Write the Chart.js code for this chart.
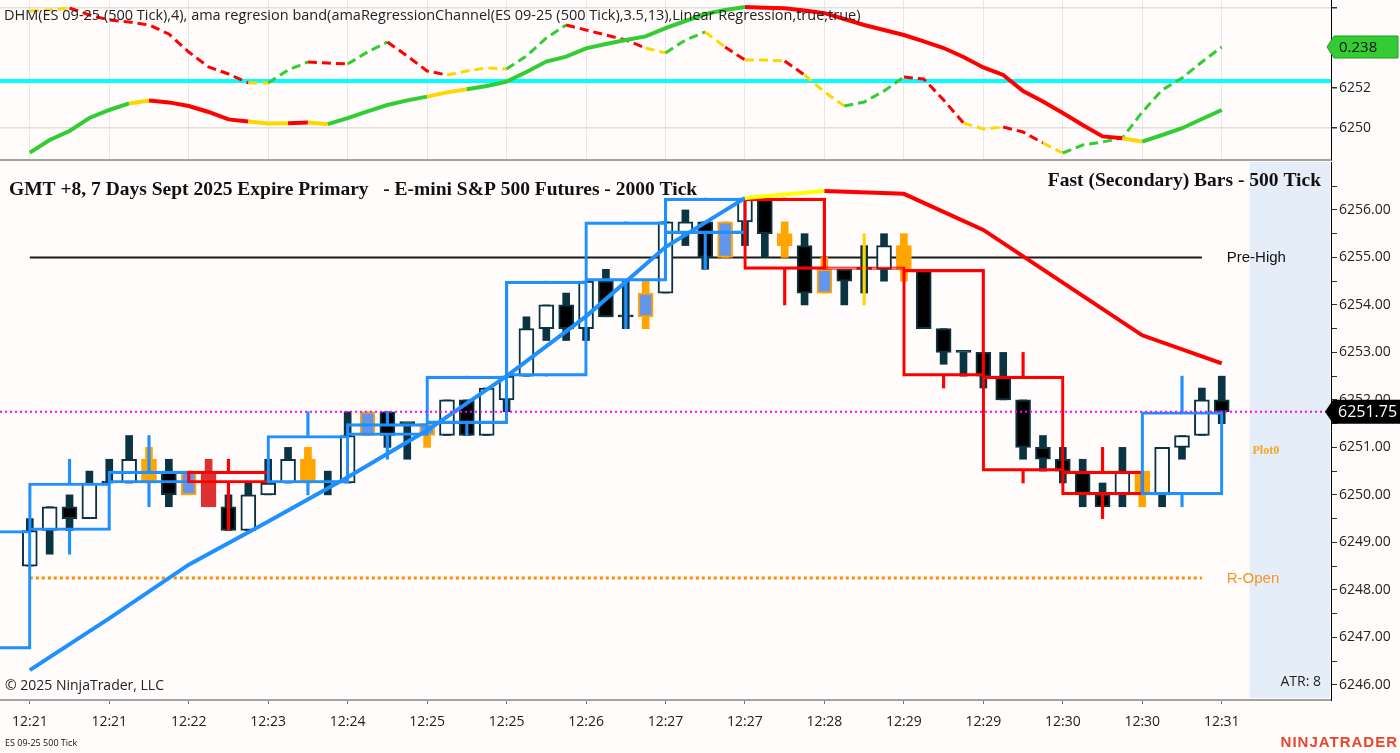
<!DOCTYPE html>
<html><head><meta charset="utf-8">
<script src="https://cdn.jsdelivr.net/npm/chart.js@4.4.1/dist/chart.umd.min.js"></script>
<style>
html,body{margin:0;padding:0;background:#fffcfb;width:1400px;height:753px;overflow:hidden;}
canvas{position:absolute;left:0;display:block;}
#c1{top:0;}
#c2{top:162px;}
</style></head><body>
<canvas id="c1" width="1400" height="162"></canvas>
<canvas id="c2" width="1400" height="591"></canvas>
<script>
// ---------------- DATA ----------------
const tickLabels = ["12:21","12:21","12:22","12:23","12:24","12:25","12:25","12:26","12:27","12:27","12:28","12:29","12:29","12:30","12:30","12:31"];
const barsPerLabel = 4;

// 500-tick candles
const barOpen  = [6248.5,6249.25,6249.75,6249.5,6250.25,6250.25,6250.75,6250.5,6250.5,6250.5,6249.75,6249.25,6250.0,6250.25,6250.75,6250.25,6250.25,6251.75,6251.75,6251.5,6251.5,6251.25,6252.0,6251.25,6252.0,6252.5,6253.5,6254.0,6253.5,6254.5,6253.75,6254.25,6254.25,6255.5,6255.75,6255.75,6255.75,6256.25,6255.5,6255.25,6254.75,6254.75,6254.75,6254.75,6255.25,6254.75,6253.5,6253.0,6253.0,6252.5,6252.0,6251.0,6250.75,6250.5,6250.0,6250.0,6250.5,6250.0,6251.0,6251.25,6252.0];
const barHigh  = [6249.5,6249.75,6250.0,6250.5,6250.75,6251.25,6251.0,6250.75,6250.5,6250.75,6250.0,6250.25,6250.75,6251.0,6251.0,6250.5,6251.75,6251.75,6251.75,6251.5,6251.5,6252.0,6252.0,6252.25,6252.5,6253.75,6254.0,6254.25,6254.5,6254.75,6254.5,6254.5,6255.75,6256.0,6255.75,6255.75,6256.25,6256.25,6255.75,6255.5,6255.0,6254.75,6255.25,6255.5,6255.5,6254.75,6253.5,6253.0,6253.0,6253.0,6252.0,6251.25,6251.0,6250.75,6250.25,6251.0,6250.5,6251.0,6251.25,6252.25,6252.5];
const barLow   = [6248.5,6248.75,6249.25,6249.5,6250.25,6250.25,6250.25,6249.75,6250.0,6249.75,6249.25,6249.25,6250.0,6250.25,6250.25,6250.0,6250.25,6251.25,6251.0,6250.75,6251.0,6251.25,6251.25,6251.25,6251.75,6252.5,6253.25,6253.25,6253.25,6253.75,6253.5,6253.5,6254.25,6255.25,6254.75,6255.0,6255.25,6255.0,6255.0,6254.0,6254.25,6254.0,6254.25,6254.5,6254.5,6253.5,6252.75,6252.5,6252.25,6252.0,6250.75,6250.5,6250.25,6249.75,6249.75,6249.75,6249.75,6249.75,6250.75,6251.25,6251.5];
const barClose = [6249.25,6249.75,6249.5,6250.25,6250.25,6250.75,6250.25,6250.0,6250.0,6249.75,6249.25,6250.0,6250.25,6250.75,6250.25,6250.25,6251.25,6251.25,6251.25,6251.5,6251.25,6252.0,6251.25,6252.25,6252.5,6253.5,6254.0,6253.5,6254.5,6253.75,6253.75,6253.75,6255.75,6255.75,6255.0,6255.0,6256.25,6255.5,6255.25,6254.25,6254.25,6254.5,6254.75,6255.25,6254.75,6253.5,6253.0,6253.0,6252.5,6252.0,6251.0,6250.75,6250.5,6250.0,6249.75,6250.5,6250.0,6251.0,6251.25,6252.0,6251.75];
// paint codes: up, dn, dj (doji), or (orange), bl (blue fill), rd (red)
const barPaint = ["up","up","dn","up","dj","up","or","dn","bl","rd","dn","up","up","up","or","dj","up","bl","dn","dj","bl","up","dn","up","up","up","up","dn","up","dn","dj","bl","up","up","dn","bl","up","dn","or","dn","bl","dn","dj","up","or","dn","dn","dj","dn","dn","dn","dn","dn","dn","dn","up","or","up","up","up","dn"];

// 2000-tick boxes (each spans 4 candles), first one starts before the visible bars
const boxFirstSlot = -1;
const boxTop    = [6249.25,6250.25,6250.5,6250.5,6251.25,6251.5,6252.5,6254.5,6255.75,6256.25,6256.25,6254.75,6254.75,6252.5,6250.5,6251.75];
const boxBottom = [6246.75,6249.25,6250.25,6250.25,6250.25,6251.25,6251.5,6252.5,6254.5,6255.5,6254.75,6254.75,6252.5,6250.5,6250.0,6250.0];
const boxHigh   = [6249.25,6250.75,6251.25,6250.75,6251.75,6251.75,6252.5,6254.5,6255.75,6256.25,6256.25,6255.5,6254.75,6253.0,6251.0,6252.5];
const boxLow    = [6246.75,6248.75,6249.75,6249.25,6250.0,6250.75,6251.25,6252.5,6253.5,6254.75,6254.0,6254.0,6252.25,6250.25,6249.5,6249.75];
const boxPaint  = ["b","b","b","r","b","b","b","b","b","b","r","ry","r","r","r","b"];

// Linear regression line (per 2000-tick bar)
const regrX = [0,4,8,12,16,20,24,28,32,36,40,44,48,52,56,60];
const regrY = [6246.31,6247.4,6248.53,6249.44,6250.37,6251.36,6252.5,6253.76,6255.22,6256.25,6256.4,6256.34,6255.58,6254.47,6253.36,6252.77];
const regrPaint = ["b","b","b","b","b","b","b","b","b","y","r","r","r","r","r"];

// levels
const preHigh = 6255.0;
const rOpen = 6248.25;
const lastPrice = 6251.75;
const plot0Value = 6250.92;
const atrValue = 8;

// Upper panel: DHM / ama regression band
const dhmDash = [6255.85,6255.9,6256.0,6255.65,6255.4,6255.3,6255.15,6254.7,6253.8,6253.05,6252.7,6252.25,6252.25,6252.9,6253.3,6253.25,6253.2,6253.8,6254.3,6253.6,6252.85,6252.65,6252.85,6253.0,6252.95,6253.6,6254.5,6255.15,6254.9,6254.65,6254.4,6254.0,6253.75,6254.4,6254.8,6254.05,6253.4,6253.4,6253.35,6252.65,6251.8,6251.1,6251.3,6251.85,6252.55,6252.45,6251.4,6250.25,6249.95,6250.05,6249.8,6249.25,6248.75,6249.15,6249.3,6249.5,6250.8,6251.9,6252.5,6253.3,6254.05];
const dhmDashPaint = ["y","y","r","r","r","r","r","r","r","r","r","y","g","g","r","r","g","g","r","r","r","y","y","y","g","g","g","r","r","r","r","y","g","g","y","r","y","y","r","y","y","g","g","g","r","r","r","y","y","r","r","y","g","g","g","g","g","g","g","g"];
const dhmSolid = [6248.77,6249.4,6249.85,6250.5,6250.9,6251.23,6251.37,6251.28,6251.1,6250.8,6250.43,6250.32,6250.23,6250.24,6250.27,6250.19,6250.49,6250.83,6251.15,6251.38,6251.57,6251.78,6251.94,6252.1,6252.32,6252.8,6253.32,6253.57,6253.98,6254.2,6254.4,6254.58,6254.99,6255.35,6255.7,6255.9,6256.05,6256.01,6255.99,6255.88,6255.74,6255.45,6255.15,6254.9,6254.65,6254.33,6254.0,6253.55,6253.03,6252.65,6251.85,6251.33,6250.75,6250.15,6249.58,6249.49,6249.32,6249.65,6249.99,6250.45,6250.9];
const dhmSolidPaint = ["g","g","g","g","g","y","r","r","r","r","r","y","y","r","y","g","g","g","g","g","y","y","g","g","g","g","g","g","g","g","g","g","g","g","g","g","r","r","r","r","r","r","r","r","r","r","r","r","r","r","r","r","r","r","r","y","g","g","g","g"];
const cyanLevel = 6252.35;
const dhmValueText = "0.238";
const upperTitle = "DHM(ES 09-25 (500 Tick),4), ama regresion band(amaRegressionChannel(ES 09-25 (500 Tick),3.5,13),Linear Regression,true,true)";
const mainTitle = "GMT +8, 7 Days Sept 2025 Expire Primary   - E-mini S&P 500 Futures - 2000 Tick";
const secTitle = "Fast (Secondary) Bars - 500 Tick";

// ---------------- STYLE ----------------
const X_MIN = -1.5, X_MAX = 65.5;
const AXIS_W = 69;
const UNIT_PX = (1400 - AXIS_W) / (X_MAX - X_MIN);
const TEAL = '#0a3442';
const BODY = {
  up:{bg:'#ffffff', bd:TEAL, wk:TEAL},
  dn:{bg:'#000000', bd:TEAL, wk:TEAL},
  dj:{bg:TEAL, bd:TEAL, wk:TEAL},
  or:{bg:'#ffa500', bd:'#ffa500', wk:'#ffa500'},
  bl:{bg:'#6495ed', bd:'#ffa500', wk:'#ffa500'},
  rd:{bg:'#dc3232', bd:'#dc3232', wk:'#dc3232'}
};
const BOXC = {b:{bd:'#1e90ff', wk:'#1e90ff'}, r:{bd:'#ff0000', wk:'#ff0000'}, ry:{bd:'#ff0000', wk:'#ffd700'}};
const LINEC = {b:'#1e90ff', y:'#ffff00', r:'#ff0000'};
const TOPC = {r:'#ff0000', y:'#ffd700', g:'#32cd32'};
const UI = '"Open Sans", "Noto Sans", sans-serif';

const xTicks = tickLabels.map((_, j) => ({value: j * barsPerLabel}));
const lastBar = barOpen.length - 1;
const noPad = s => { s.paddingTop = 0; s.paddingBottom = 0; s.paddingLeft = 0; s.paddingRight = 0; };

// ---------------- UPPER PANEL ----------------
const topTextPlugin = {
  id:'topText',
  afterDraw(chart){
    const ctx = chart.ctx, y = chart.scales.y;
    ctx.save();
    ctx.font = '14.5px ' + UI; ctx.fillStyle = '#222'; ctx.textBaseline = 'middle'; ctx.textAlign='left';
    ctx.fillText(upperTitle, 4, 16);
    const py = y.getPixelForValue(dhmDash[dhmDash.length-1]);
    const l = chart.chartArea.right - 4;
    ctx.beginPath();
    ctx.moveTo(l, py); ctx.lineTo(l+7, py-11); ctx.lineTo(1398, py-11); ctx.lineTo(1398, py+11); ctx.lineTo(l+7, py+11); ctx.closePath();
    ctx.fillStyle = '#33cc33'; ctx.fill(); ctx.strokeStyle='#249a24'; ctx.lineWidth=1; ctx.stroke();
    ctx.fillStyle = '#111'; ctx.font = '15px ' + UI;
    ctx.fillText(dhmValueText, l+12, py+1);
    ctx.restore();
  }
};

new Chart(document.getElementById('c1'), {
  type:'line',
  data:{datasets:[
    {data: dhmSolid.map((v,i)=>({x:i,y:v})), borderWidth:4, borderColor:TOPC.g,
     segment:{borderColor: c => TOPC[dhmSolidPaint[c.p0DataIndex]]}, pointRadius:0, tension:0, order:1},
    {data: dhmDash.map((v,i)=>({x:i,y:v})), borderWidth:3, borderDash:[9,5], borderColor:TOPC.r,
     segment:{borderColor: c => TOPC[dhmDashPaint[c.p0DataIndex]]}, pointRadius:0, tension:0, order:2},
    {data:[{x:X_MIN,y:cyanLevel},{x:X_MAX,y:cyanLevel}], borderColor:'#00ffff', borderWidth:4, pointRadius:0, order:5}
  ]},
  options:{
    responsive:false, animation:false, devicePixelRatio:1,
    layout:{padding:0},
    plugins:{legend:{display:false}, tooltip:{enabled:false}},
    scales:{
      x:{type:'linear', min:X_MIN, max:X_MAX, offset:false,
         afterBuildTicks: s => { s.ticks = xTicks.map(t=>({value:t.value})); },
         ticks:{display:false}, grid:{color:'#e9e6e6', drawTicks:false, lineWidth:1},
         border:{display:true, color:'#a3a3a3', width:2},
         afterFit: s => { s.height = 2; noPad(s); }},
      y:{position:'right', min:6248.4, max:6256.4,
         afterBuildTicks: s => { s.ticks = [6250,6252,6254,6256].map(v=>({value:v})); },
         ticks:{autoSkip:false, padding:2, color:'#222', font:{family:UI, size:14},
                callback: v => (v===6250||v===6252) ? String(v) : ''},
         grid:{color: c => (c.tick && (c.tick.value===6250||c.tick.value===6256)) ? '#e2dfdf' : 'rgba(0,0,0,0)',
               tickColor:'#333', tickLength:6, lineWidth:1.5},
         border:{display:true, color:'#000', width:1},
         afterFit: s => { s.width = AXIS_W; noPad(s); }}
    }
  },
  plugins:[topTextPlugin]
});

// ---------------- LOWER PANEL ----------------
const shadePlugin = {
  id:'shade',
  beforeDatasetsDraw(chart){
    const {ctx, chartArea:a, scales:{x}} = chart;
    const x0 = x.getPixelForValue(lastBar + 1.4);
    ctx.save(); ctx.fillStyle = '#e5edf9';
    ctx.fillRect(x0, a.top, a.right - x0 - 1, a.bottom - a.top - 2);
    ctx.restore();
  }
};
const textPlugin = {
  id:'txt',
  afterDraw(chart){
    const {ctx, chartArea:a, scales:{x, y}} = chart;
    ctx.save();
    ctx.textBaseline = 'middle';
    ctx.fillStyle = '#111'; ctx.textAlign='left';
    ctx.font = 'bold 19.5px "Liberation Serif", "DejaVu Serif", serif';
    ctx.fillText(mainTitle, 9, a.top + 28);
    ctx.textAlign='right';
    ctx.fillText(secTitle, a.right - 10, a.top + 19);
    const lx = x.getPixelForValue(lastBar) + 5;
    ctx.textAlign='left'; ctx.font = '15px "Liberation Sans", Arial, sans-serif';
    ctx.fillStyle = '#111'; ctx.fillText('Pre-High', lx, y.getPixelForValue(preHigh));
    ctx.fillStyle = '#f7941d'; ctx.fillText('R-Open', lx, y.getPixelForValue(rOpen) + 1);
    ctx.font = 'bold 12px "Liberation Serif", serif'; ctx.fillStyle = '#f5a623';
    ctx.fillText('Plot0', x.getPixelForValue(lastBar + 1.55), y.getPixelForValue(plot0Value));
    ctx.font = '14px ' + UI; ctx.fillStyle = '#222'; ctx.textAlign='right';
    ctx.fillText('ATR: ' + atrValue, a.right - 10, a.bottom - 18);
    ctx.textAlign='left';
    ctx.fillText('\u00A9 2025 NinjaTrader, LLC', 5, a.bottom - 14);
    ctx.font = '9px ' + UI; ctx.fillStyle='#111';
    ctx.fillText('ES 09-25 500 Tick', 5, chart.height - 10);
    ctx.font = 'bold 15px "Liberation Sans", Arial, sans-serif'; ctx.fillStyle = '#e8452c';
    ctx.letterSpacing = '1px';
    ctx.textAlign='right';
    ctx.fillText('NINJATRADER', 1398, chart.height - 10);
    ctx.letterSpacing = '0px';
    const py = y.getPixelForValue(lastPrice);
    const l = a.right - 6;
    ctx.beginPath();
    ctx.moveTo(l, py); ctx.lineTo(l+8, py-12); ctx.lineTo(1400, py-12); ctx.lineTo(1400, py+12); ctx.lineTo(l+8, py+12); ctx.closePath();
    ctx.fillStyle='#000'; ctx.fill();
    ctx.fillStyle='#fff'; ctx.font='16px ' + UI; ctx.textAlign='left';
    ctx.fillText(lastPrice.toFixed(2), l+13, py+1);
    ctx.restore();
  }
};

const boxCenters = boxTop.map((_, j) => (boxFirstSlot + j) * barsPerLabel + barsPerLabel/2);
const BOX_W = barsPerLabel * UNIT_PX + 2.5;

new Chart(document.getElementById('c2'), {
  type:'line',
  data:{datasets:[
    {type:'line', data:[{x:0,y:preHigh},{x:lastBar-1,y:preHigh}], borderColor:'#1a1a1a', borderWidth:2, pointRadius:0, order:20},
    {type:'line', data:[{x:0,y:rOpen},{x:lastBar-1,y:rOpen}], borderColor:'#ff8c00', borderWidth:3, borderDash:[3,3], pointRadius:0, order:20},
    {type:'bar', data: barLow.map((l,i)=>({x:i, y:[l, barHigh[i]]})), grouped:false, barThickness:7,
     backgroundColor: barPaint.map(p=>BODY[p].wk), borderWidth:0, order:12},
    {type:'bar', data: barOpen.map((o,i)=>({x:i, y:[o, barClose[i]]})), grouped:false, barThickness:15, minBarLength:2,
     backgroundColor: barPaint.map(p=>BODY[p].bg), borderColor: barPaint.map(p=>BODY[p].bd), borderWidth:2, borderSkipped:false, order:11},
    {type:'bar', data: boxTop.map((t,j)=>({x:boxCenters[j], y:[t, boxBottom[j]]})), grouped:false, barThickness:BOX_W, minBarLength:2.5,
     backgroundColor:'rgba(0,0,0,0)', borderColor: boxPaint.map(p=>BOXC[p].bd), borderWidth:2.5, borderSkipped:false, order:6},
    {type:'bar', data: boxTop.map((t,j)=>({x:boxCenters[j], y:[t, boxHigh[j]]})), grouped:false, barThickness:2.5,
     backgroundColor: boxPaint.map(p=>BOXC[p].wk), borderWidth:0, order:5},
    {type:'bar', data: boxBottom.map((b,j)=>({x:boxCenters[j], y:[boxLow[j], b]})), grouped:false, barThickness:2.5,
     backgroundColor: boxPaint.map(p=>BOXC[p].wk), borderWidth:0, order:5},
    {type:'line', data: regrX.map((xv,i)=>({x:xv, y:regrY[i]})), borderWidth:4, borderColor:LINEC.b,
     segment:{borderColor: c => LINEC[regrPaint[c.p0DataIndex]]}, pointRadius:0, tension:0, order:2},
    {type:'line', data:[{x:X_MIN,y:lastPrice},{x:X_MAX,y:lastPrice}], borderColor:'#ff00ff', borderWidth:2, borderDash:[2,3], pointRadius:0, order:1}
  ]},
  options:{
    responsive:false, animation:false, devicePixelRatio:1,
    layout:{padding:0},
    plugins:{legend:{display:false}, tooltip:{enabled:false}},
    scales:{
      x:{type:'linear', min:X_MIN, max:X_MAX, offset:false,
         afterBuildTicks: s => { s.ticks = xTicks.map(t=>({value:t.value})); },
         ticks:{autoSkip:false, maxRotation:0, padding:10, color:'#222', font:{family:UI, size:14},
                callback: v => tickLabels[Math.round(v / barsPerLabel)]},
         grid:{drawOnChartArea:false, drawTicks:true, tickLength:4, color:'#777', offset:false},
         border:{display:true, color:'#a3a3a3', width:2},
         afterFit: s => { s.height = 53; noPad(s); }},
      y:{position:'right', min:6245.68, max:6257.01,
         afterBuildTicks: s => { const t=[]; for (let v=6246; v<=6256.5; v+=0.5) t.push({value:v}); s.ticks = t; },
         ticks:{autoSkip:false, padding:2, color:'#222', font:{family:UI, size:14},
                callback: v => Number.isInteger(v) ? v.toFixed(2) : ''},
         grid:{drawOnChartArea:false, tickColor:'#333', tickLength:6},
         border:{display:true, color:'#000', width:1},
         afterFit: s => { s.width = AXIS_W; noPad(s); }}
    }
  },
  plugins:[shadePlugin, textPlugin]
});
</script>
</body></html>
